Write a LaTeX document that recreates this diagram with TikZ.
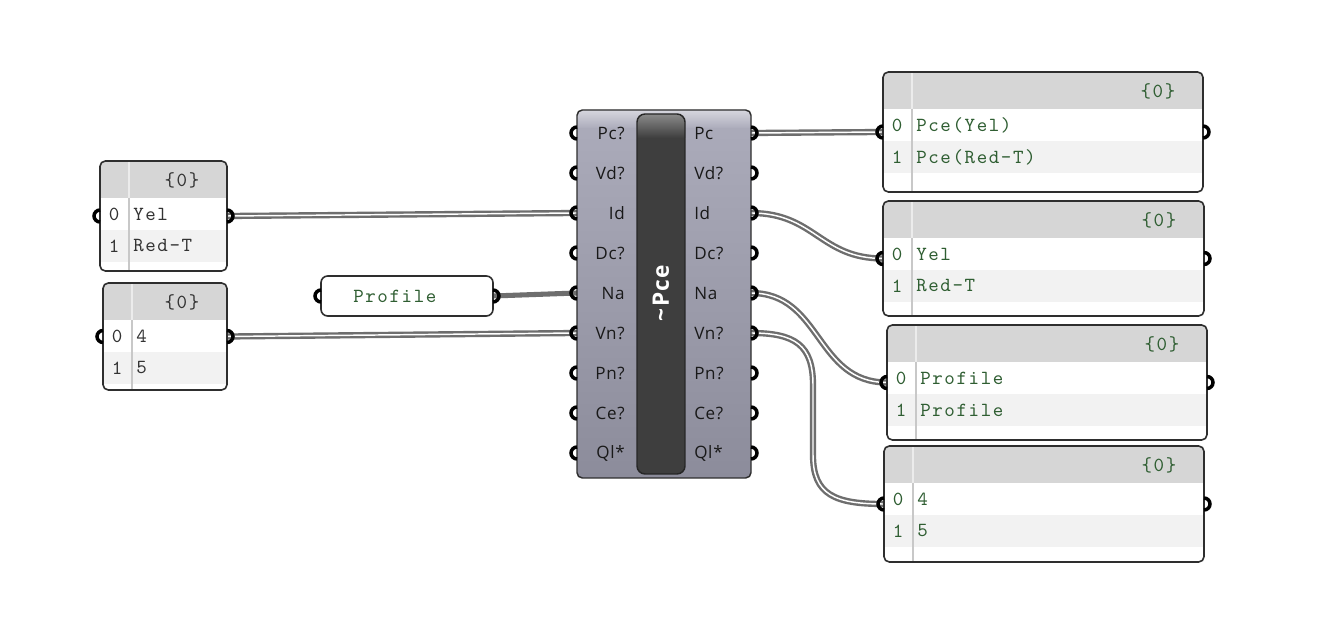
\documentclass[tikz,border=0pt]{standalone}
\usepackage{fontspec}
\newfontfamily\ghsans{Open Sans}[LetterSpace=4]
\newfontfamily\ghtitle{Open Sans}[LetterSpace=6]
\newfontfamily\ghmono{lmmono10-regular.otf}[LetterSpace=8]
\usetikzlibrary{calc}
\pgfdeclarelayer{bg}
\pgfsetlayers{bg,main}
\definecolor{ghgreen}{HTML}{2F5E32}
\definecolor{ghtext}{HTML}{333333}
\definecolor{ghborder}{HTML}{2E2E2E}
\definecolor{ghhead}{HTML}{D6D6D6}
\definecolor{ghrow}{HTML}{F2F2F2}
\definecolor{ghdiv}{HTML}{C8C8C8}
\definecolor{ghdivh}{HTML}{ECECEC}
\definecolor{ghwire}{HTML}{6E6E6E}
\definecolor{ghtop}{HTML}{ACACBB}
\definecolor{ghbot}{HTML}{8C8C9B}
\definecolor{ghhigh}{HTML}{D6D6DE}
\definecolor{ghbar}{HTML}{3E3E3E}
\definecolor{ghbarhi}{HTML}{8A8A8A}
\tikzset{
  panelborder/.style={draw=ghborder, line width=1.2pt, rounded corners=4},
  port/.style={draw=black, line width=2.6pt},
  wire/.style={draw=ghwire, line width=1.8pt, double=white, double distance=1.1pt},
  itemwire/.style={draw=ghwire, line width=3.8pt},
  monotxt/.style={font=\fontsize{15}{17}\ghmono, inner sep=0pt},
  lbl/.style={font=\fontsize{12.8}{14}\ghsans, text=black!90, inner sep=0pt},
}
\newcommand\ghport[2]{% #1 coordinate, #2 side: l or r
  \if#2l\draw[port] (#1) ++(0,-6) arc[start angle=-90, end angle=-270, radius=6];
  \else\draw[port] (#1) ++(0,-6) arc[start angle=-90, end angle=90, radius=6];\fi
}
\newcommand\ghpanel[8]{%
  \pgfmathsetmacro\pmid{(#3+#5)/2}
  \begin{scope}
    \clip[rounded corners=4] (#2,#3) rectangle (#4,#5);
    \fill[white] (#2,#3) rectangle (#4,#5);
    \fill[ghhead] (#2,#3) rectangle (#4,#3+37);
    \fill[ghrow] (#2,#3+69) rectangle (#4,#3+101);
    \draw[ghdivh, line width=1pt] (#2+29,#3) -- (#2+29,#3+37);
    \draw[ghdiv, line width=1pt] (#2+29,#3+37) -- (#2+29,#5);
  \end{scope}
  \draw[panelborder] (#2,#3) rectangle (#4,#5);
  \coordinate (#1-in) at (#2,\pmid);
  \coordinate (#1-out) at (#4,\pmid);
  \node[monotxt, text=#6] (#1-h) at (#4-45,#3+19) {\{0\}};
  \node[monotxt, text=#6] (#1-i0) at (#2+14,#3+53) {0};
  \node[monotxt, text=#6] (#1-i1) at (#2+14,#3+85) {1};
  \node[monotxt, text=#6, anchor=west] (#1-v0) at (#2+33,#3+53) {#7};
  \node[monotxt, text=#6, anchor=west] (#1-v1) at (#2+33,#3+85) {#8};
  \ghport{#1-in}{l}
  \ghport{#1-out}{r}
}
\begin{document}
\begin{tikzpicture}[x=0.75pt, y=-0.75pt]
\begin{pgfonlayer}{bg}
  \fill[white] (0,0) rectangle (1318,623);
\end{pgfonlayer}
\useasboundingbox (0,0) rectangle (1318,623);

% left panels
\ghpanel{L1}{100}{161}{227}{271}{ghtext}{Yel}{Red-T}
\ghpanel{L2}{103}{283}{227}{390}{ghtext}{4}{5}

% profile panel
\draw[panelborder, fill=white, rounded corners=5] (321,276) rectangle (493,316);
\node[monotxt, text=ghgreen, anchor=west] (prof-t) at (353,296) {Profile};
\coordinate (prof-in) at (321,296);
\coordinate (prof-out) at (493,296);
\ghport{prof-in}{l}
\ghport{prof-out}{r}

% main component
\begin{scope}
  \clip[rounded corners=4] (577,110) rectangle (751,478);
  \shade[top color=ghtop, bottom color=ghbot] (577,110) rectangle (751,478);
  \shade[top color=ghhigh, bottom color=ghtop] (577,110) rectangle (751,128);
\end{scope}
\draw[draw=ghborder, line width=1.1pt, rounded corners=4] (577,110) rectangle (751,478);
\begin{scope}
  \clip[rounded corners=6] (637,114) rectangle (685,474);
  \fill[ghbar] (637,114) rectangle (685,474);
  \shade[top color=ghbarhi, bottom color=ghbar] (637,114) rectangle (685,138);
\end{scope}
\draw[draw=black!85, line width=1.1pt, rounded corners=6] (637,114) rectangle (685,474);
\node[rotate=90, text=white, font=\fontsize{17}{19}\ghtitle\bfseries, inner sep=0pt] (pce-name) at (661,293) {\textasciitilde Pce};

\foreach \lab [count=\i from 0] in {Pc?,Vd?,Id,Dc?,Na,Vn?,Pn?,Ce?,Ql*}{
  \coordinate (pce-in\i) at (577,133+40*\i);
  \node[lbl, anchor=east] (pce-inl\i) at (625,133+40*\i) {\lab};
  \ghport{pce-in\i}{l}
}
\foreach \lab [count=\i from 0] in {Pc,Vd?,Id,Dc?,Na,Vn?,Pn?,Ce?,Ql*}{
  \coordinate (pce-out\i) at (751,133+40*\i);
  \node[lbl, anchor=west] (pce-outl\i) at (694,133+40*\i) {\lab};
  \ghport{pce-out\i}{r}
}

% right panels
\ghpanel{R1}{883}{72}{1203}{192}{ghgreen}{Pce(Yel)}{Pce(Red-T)}
\ghpanel{R2}{883}{201}{1204}{316}{ghgreen}{Yel}{Red-T}
\ghpanel{R3}{887}{325}{1207}{440}{ghgreen}{Profile}{Profile}
\ghpanel{R4}{884}{446}{1204}{562}{ghgreen}{4}{5}

% wires
\begin{pgfonlayer}{bg}
  \draw[wire] (L1-out) -- (pce-in2);
  \draw[wire] (L2-out) -- (pce-in5);
  \draw[itemwire] (prof-out) -- (pce-in4);
  \draw[wire] (pce-out0) -- (R1-in);
  \draw[wire] (pce-out2) .. controls (815,213) and (820,258.5) .. (R2-in);
  \draw[wire] (pce-out4) .. controls (822,293) and (815,382.5) .. (R3-in);
  \draw[wire] (pce-out5) .. controls (795,333) and (813,345) .. (813,385)
     -- (813,455) .. controls (813,495) and (835,504) .. (R4-in);
\end{pgfonlayer}
\end{tikzpicture}
\end{document}
